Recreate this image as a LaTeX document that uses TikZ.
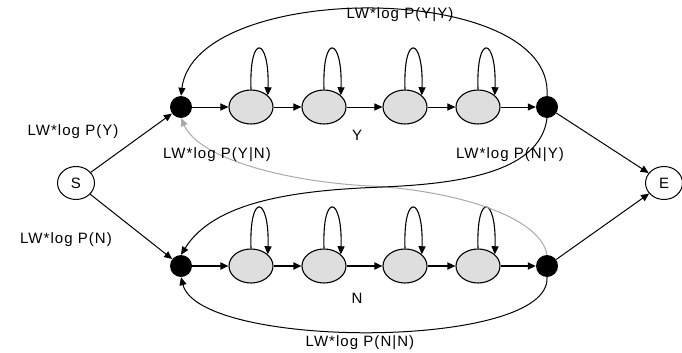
\documentclass[tikz,border=0pt]{standalone}
\usepackage{fontspec}
\setmainfont{Liberation Sans}
\newfontfamily\labfont[LetterSpace=7]{Liberation Sans}
\usetikzlibrary{arrows.meta,shapes.geometric}
\definecolor{stfill}{RGB}{222,222,222}
\definecolor{backgray}{RGB}{170,170,170}
\begin{document}
\begin{tikzpicture}[x=1pt,y=1pt,
  >={Triangle[length=8pt,width=7pt]},
  state/.style={ellipse,draw,line width=1.1pt,fill=stfill,minimum width=44pt,minimum height=34pt,inner sep=0pt},
  dot/.style={circle,fill=black,minimum size=22pt,inner sep=0pt},
  term/.style={ellipse,draw,line width=1pt,minimum width=37pt,minimum height=33pt,inner sep=0pt,font=\labfont\fontsize{15}{17}\selectfont},
  lab/.style={font=\labfont\fontsize{15}{17}\selectfont,inner sep=0pt},
  edge/.style={->,line width=1pt},
  thickedge/.style={->,line width=1.7pt},
  loopedge/.style={->,line width=1.1pt},
  grayedge/.style={->,line width=1pt,draw=backgray}
]
\useasboundingbox[fill=white] (0,0) rectangle (682,-353);

% terminals
\node[term] (S) at (76,-183) {S};
\node[term] (E) at (664,-183) {E};

% Y chain
\node[dot] (YS) at (181,-107) {};
\node[state] (y1) at (251,-107) {};
\node[state] (y2) at (324,-107) {};
\node[state] (y3) at (405,-107) {};
\node[state] (y4) at (478,-107) {};
\node[dot] (YE) at (547,-107) {};

% N chain
\node[dot] (NS) at (181,-266) {};
\node[state] (n1) at (251,-266) {};
\node[state] (n2) at (324,-266) {};
\node[state] (n3) at (405,-266) {};
\node[state] (n4) at (478,-266) {};
\node[dot] (NE) at (547,-266) {};

% chain arrows
\draw[edge] (YS) -- (y1);
\draw[edge] (y1) -- (y2);
\draw[edge] (y2) -- (y3);
\draw[edge] (y3) -- (y4);
\draw[edge] (y4) -- (YE);
\draw[thickedge] (NS) -- (n1);
\draw[thickedge] (n1) -- (n2);
\draw[thickedge] (n2) -- (n3);
\draw[thickedge] (n3) -- (n4);
\draw[thickedge] (n4) -- (NE);

% self loops
\foreach \n in {y1,y2,y3,y4,n1,n2,n3,n4}{
  \draw[loopedge] (\n.90) .. controls +(-2,58) and +(2,58) .. (\n.35);
}

% entry / exit
\draw[edge] (S) -- (YS);
\draw[edge] (S) -- (NS);
\draw[edge] (YE) -- (E);
\draw[edge] (NE) -- (E);

% self transitions of the words
\draw[edge] (YE.north) .. controls (555,20) and (195,20) .. (YS.north);
\draw[edge] (NE.south) .. controls (552,-350) and (200,-350) .. (NS.south);

% cross transitions
\draw[grayedge] (NE.north) .. controls (540,-215) and (450,-190) .. (370,-186)
   .. controls (290,-182) and (200,-160) .. (YS.south);
\draw[edge] (YE.south) .. controls (540,-175) and (450,-184) .. (383,-187)
   .. controls (300,-190) and (215,-200) .. (NS.north);

% labels
\node[lab] (lyy) at (400,-15) {LW*log P(Y|Y)};
\node[lab] (ly) at (73,-132) {LW*log P(Y)};
\node[lab] (lyn) at (217,-155) {LW*log P(Y|N)};
\node[lab] (lny) at (510,-155) {LW*log P(N|Y)};
\node[lab] (ln) at (66,-240) {LW*log P(N)};
\node[lab] (lnn) at (360,-343) {LW*log P(N|N)};
\node[lab] (wy) at (357,-135) {Y};
\node[lab] (wn) at (357,-298) {N};
\end{tikzpicture}
\end{document}
